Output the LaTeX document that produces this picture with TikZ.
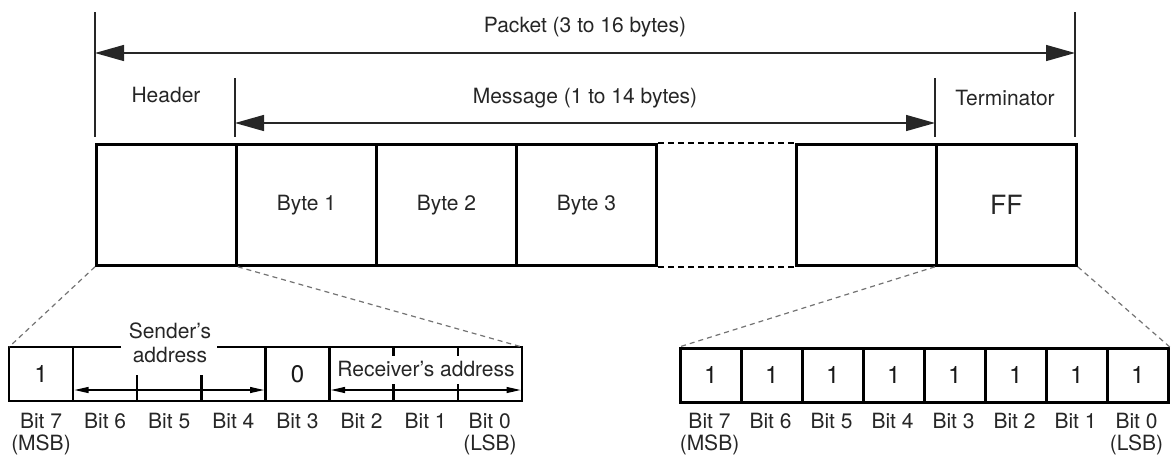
\documentclass[tikz,border=0pt]{standalone}
\usepackage{fontspec}
\setmainfont{TeX Gyre Heros}
\usetikzlibrary{arrows.meta}
\begin{document}
\begin{tikzpicture}[x=1pt,y=-1pt,
  lbl/.style={inner sep=0pt, font=\fontsize{21}{24}\selectfont, text=black!85},
  digit/.style={inner sep=0pt, font=\fontsize{24}{28}\selectfont, text=black!90},
  topbox/.style={draw, line width=2.8pt, minimum width=140pt, minimum height=121pt, inner sep=0pt, anchor=north west, font=\fontsize{21}{24}\selectfont, text=black!85},
  bitbox/.style={draw, line width=2.8pt, minimum width=61pt, minimum height=54pt, inner sep=0pt, anchor=north west, font=\fontsize{24}{28}\selectfont, text=black!90},
  boxln/.style={line width=2.8pt},
  divln/.style={line width=2.4pt},
  tickln/.style={line width=1.4pt, black!85},
  bigarrow/.style={line width=1.4pt, black!85, {Triangle[length=29pt,width=16pt]}-{Triangle[length=29pt,width=16pt]}},
  smallarrow/.style={line width=1.2pt, {Triangle[length=14pt,width=6pt]}-{Triangle[length=14pt,width=6pt]}},
  gapln/.style={line width=1.6pt, dash pattern=on 6pt off 4pt},
  zoomln/.style={line width=1.2pt, black!55, dash pattern=on 5pt off 4pt},
]
\useasboundingbox (0,0) rectangle (1172,459);

% ---------- top row ----------
\node[topbox] (hdr) at (95,143) {};
\node[topbox] (b1) at (235,143) {Byte 1};
\node[topbox] (b2) at (375,143) {Byte 2};
\node[topbox] (b3) at (515,143) {Byte 3};
\node[topbox] (bn) at (795,143) {};
\node[topbox, font=\fontsize{26.5}{30}\selectfont] (term) at (935,143) {FF};
\draw[gapln] (b3.north east) -- (bn.north west);
\draw[gapln] (b3.south east) -- (bn.south west);

% ticks and dimension arrows
\coordinate (pkLt) at (95,12);  \coordinate (pkLb) at (95,137);
\coordinate (pkRt) at (1075,12); \coordinate (pkRb) at (1075,137);
\coordinate (msLt) at (235,78); \coordinate (msLb) at (235,137);
\coordinate (msRt) at (935,78); \coordinate (msRb) at (935,137);
\draw[tickln] (pkLt) -- (pkLb);
\draw[tickln] (pkRt) -- (pkRb);
\draw[tickln] (msLt) -- (msLb);
\draw[tickln] (msRt) -- (msRb);
\coordinate (pa1) at (95,53);  \coordinate (pa2) at (1075,53);
\coordinate (ma1) at (235,123); \coordinate (ma2) at (935,123);
\draw[bigarrow] (pa1) -- (pa2);
\draw[bigarrow] (ma1) -- (ma2);
\node[lbl] (tpk) at (585,27) {Packet (3 to 16 bytes)};
\node[lbl] (tms) at (585,98) {Message (1 to 14 bytes)};
\node[lbl] (thd) at (166,95) {Header};
\node[lbl] (ttm) at (1005,98) {Terminator};

% ---------- bottom left: header byte ----------
\coordinate (LNW) at (9,347);
\coordinate (LNE) at (522,347);
\coordinate (LSW) at (9,401);
\coordinate (LSE) at (522,401);
\coordinate (gapL) at (121,347);
\coordinate (gapR) at (217,347);
\draw[boxln] (gapL) -- (LNW) -- (LSW) -- (LSE) -- (LNE) -- (gapR);
% full dividers
\foreach \i in {1,4,5}{
  \draw[divln] (9+64.1*\i,347) -- (9+64.1*\i,401);
}
% sender ticks
\foreach \i in {2,3}{
  \draw[divln] (9+64.1*\i,375) -- (9+64.1*\i,401);
}
% receiver dividers (broken by label)
\foreach \i in {6,7}{
  \draw[divln] (9+64.1*\i,347) -- (9+64.1*\i,356);
  \draw[divln] (9+64.1*\i,384) -- (9+64.1*\i,401);
}
\coordinate (sa1) at (74.5,390); \coordinate (sa2) at (264,390);
\coordinate (ra1) at (331,390);  \coordinate (ra2) at (520.5,390);
\draw[smallarrow] (sa1) -- (sa2);
\draw[smallarrow] (ra1) -- (ra2);
\node[digit] (l1) at (41,374) {1};
\node[digit] (l0) at (297.5,374) {0};
\node[lbl, align=center] (tsa) at (170,343) {Sender's\\address};
\node[lbl] (tra) at (426,369) {Receiver's address};
\foreach \i [evaluate=\i as \b using int(7-\i)] in {0,...,7}{
  \node[lbl] (lb\i) at (9+64.1*\i+32.05,421) {Bit \b};
}
\node[lbl] (lmsb) at (41,445) {(MSB)};
\node[lbl] (llsb) at (489.9,445) {(LSB)};

% ---------- bottom right: terminator byte ----------
\foreach \i in {0,...,7}{
  \node[bitbox] (r\i) at (679+61*\i,347) {1};
}
\foreach \i [evaluate=\i as \b using int(7-\i)] in {0,...,7}{
  \node[lbl] (rb\i) at (679+61*\i+30.5,421) {Bit \b};
}
\node[lbl] (rmsb) at (709.5,445) {(MSB)};
\node[lbl] (rlsb) at (1136.5,445) {(LSB)};

% ---------- zoom connectors ----------
\draw[zoomln] (hdr.south west) -- (LNW);
\draw[zoomln] (hdr.south east) -- (LNE);
\draw[zoomln] (term.south west) -- (r0.north west);
\draw[zoomln] (term.south east) -- (r7.north east);
\end{tikzpicture}
\end{document}
